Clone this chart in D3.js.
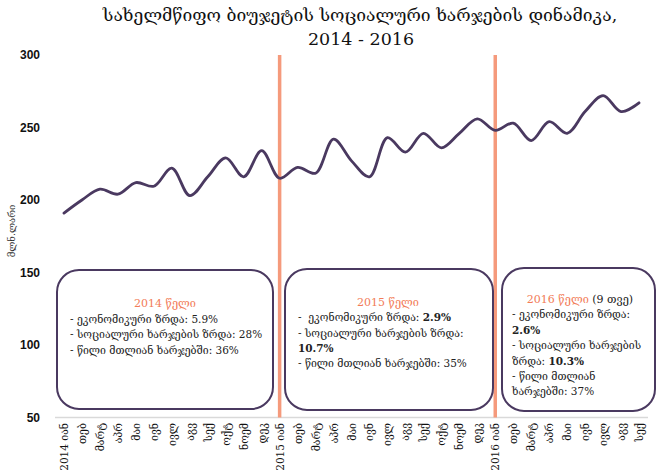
<!DOCTYPE html>
<html>
<head>
<meta charset="utf-8">
<script src="https://cdn.jsdelivr.net/npm/d3@7"></script>
<style>
  html, body { margin: 0; padding: 0; background: #fff; }
  svg { display: block; }
  .geo { font-family: "DejaVu Serif", "DejaVu Sans", serif; white-space: pre; }
</style>
</head>
<body>
<div id="chart"></div>
<script>
// ---- data ----
const years  = ['2014', '2015', '2016'];
const months = ['იან', 'თებ', 'მარტ', 'აპრ', 'მაი', 'ივნ', 'ივლ', 'აგვ', 'სექ', 'ოქტ', 'ნოემ', 'დეკ'];
const monthsPerYear = [12, 12, 9];

// social spending, mln. GEL
const spending = [
  191, 200, 207.5, 204, 212, 209.5, 222, 203, 216, 229, 216, 234,
  215, 222.5, 218.5, 242, 227, 216, 243, 233, 246, 236, 246, 256,
  248, 253, 241, 254, 246, 261, 272, 261, 267
];

const yTicks = [50, 100, 150, 200, 250, 300];

// annotation boxes: each line is a list of [text, bold]
const box2014 = {
  title: [['2014 წელი', 'o']],
  lines: [
    [['- ეკონომიკური ზრდა: 5.9%', 0]],
    [['- სოციალური ხარჯების ზრდა: 28%', 0]],
    [['- წილი მთლიან ხარჯებში: 36%', 0]]
  ]
};
const box2015 = {
  title: [['2015 წელი', 'o']],
  lines: [
    [['-  ეკონომიკური ზრდა: ', 0], ['2.9%', 1]],
    [['- სოციალური ხარჯების ზრდა:', 0]],
    [['10.7%', 1]],
    [['- წილი მთლიან ხარჯებში: 35%', 0]]
  ]
};
const box2016 = {
  title: [['2016 წელი', 'o'], [' (9 თვე)', 0]],
  lines: [
    [['- ეკონომიკური ზრდა:', 0]],
    [['2.6%', 1]],
    [['- სოციალური ხარჯების', 0]],
    [['ზრდა: ', 0], ['10.3%', 1]],
    [['- წილი მთლიან', 0]],
    [['ხარჯებში: 37%', 0]]
  ]
};

// category labels built from years + months
const categories = [];
years.forEach((yr, yi) => {
  for (let m = 0; m < monthsPerYear[yi]; m++) {
    categories.push(m === 0 ? yr + ' ' + months[m] : months[m]);
  }
});

// ---- layout ----
const W = 658, H = 471;
const LINE_COLOR = '#4a3960';
const SEP_COLOR  = '#f59a7c';
const ORANGE     = '#f27c58';

const svg = d3.select('#chart').append('svg')
  .attr('width', W)
  .attr('height', H);

const x = d3.scalePoint()
  .domain(d3.range(categories.length))
  .range([55, 648])
  .padding(0.5);

const y = d3.scaleLinear()
  .domain([50, 300])
  .range([417.5, 55]);

// title
const title = svg.append('text')
  .attr('class', 'geo')
  .attr('text-anchor', 'middle')
  .attr('font-size', 17.5)
  .attr('fill', '#111');
title.append('tspan').attr('x', 360).attr('y', 21)
  .text('სახელმწიფო ბიუჯეტის სოციალური ხარჯების დინამიკა,');
title.append('tspan').attr('x', 361).attr('y', 45)
  .text('2014 - 2016');

// bottom axis line
svg.append('line')
  .attr('x1', 55).attr('x2', 648)
  .attr('y1', y(50)).attr('y2', y(50))
  .attr('stroke', '#d9d9d9')
  .attr('stroke-width', 1.5);

// y axis labels
svg.append('g')
  .selectAll('text')
  .data(yTicks)
  .enter()
  .append('text')
  .attr('x', 40)
  .attr('y', d => y(d))
  .attr('dy', '0.35em')
  .attr('text-anchor', 'end')
  .attr('font-family', '"Liberation Sans", Arial, sans-serif')
  .attr('font-weight', 'bold')
  .attr('font-size', 12)
  .attr('fill', '#111')
  .text(d => d);

// y axis title
svg.append('text')
  .attr('class', 'geo')
  .attr('transform', 'translate(15,231) rotate(-90)')
  .attr('text-anchor', 'middle')
  .attr('font-size', 9.5)
  .attr('fill', '#333')
  .text('მლნ.ლარი');

// x axis labels (rotated)
svg.append('g')
  .selectAll('text')
  .data(categories)
  .enter()
  .append('text')
  .attr('class', 'geo')
  .attr('transform', (d, i) => `translate(${x(i) + 4},423) rotate(-90)`)
  .attr('text-anchor', 'end')
  .attr('font-size', 10.5)
  .attr('fill', '#111')
  .text(d => d);

// year separators at each January
const janIdx = [];
categories.forEach((c, i) => { if (i > 0 && /^\d{4}/.test(c)) janIdx.push(i); });
svg.append('g')
  .selectAll('line')
  .data(janIdx)
  .enter()
  .append('line')
  .attr('x1', d => x(d)).attr('x2', d => x(d))
  .attr('y1', y(300)).attr('y2', y(50))
  .attr('stroke', SEP_COLOR)
  .attr('stroke-width', 3.5);

// annotation boxes
function drawBox(box, bx, by, bw, bh, textX, titleX, y0, step) {
  const g = svg.append('g');
  g.append('rect')
    .attr('x', bx).attr('y', by)
    .attr('width', bw).attr('height', bh)
    .attr('rx', 22).attr('ry', 22)
    .attr('fill', '#fff')
    .attr('stroke', LINE_COLOR)
    .attr('stroke-width', 2);

  const t = g.append('text')
    .attr('class', 'geo')
    .attr('x', titleX).attr('y', y0)
    .attr('text-anchor', 'middle')
    .attr('font-size', 11);
  box.title.forEach(seg => {
    t.append('tspan')
      .attr('fill', seg[1] === 'o' ? ORANGE : '#222')
      .text(seg[0]);
  });

  box.lines.forEach((line, li) => {
    const lt = g.append('text')
      .attr('class', 'geo')
      .attr('x', textX)
      .attr('y', y0 + step * (li + 1))
      .attr('font-size', 10.5)
      .attr('fill', '#222');
    line.forEach(seg => {
      lt.append('tspan')
        .attr('font-weight', seg[1] ? 'bold' : 'normal')
        .text(seg[0]);
    });
  });
}

drawBox(box2014, 57, 270, 216, 139, 70, 165, 307, 15.5);
drawBox(box2015, 285, 269, 208, 141, 298, 388, 306, 15.3);
drawBox(box2016, 502, 268, 153, 143, 512, 580, 303, 15.4);

// spending line
const line = d3.line()
  .x((d, i) => x(i))
  .y(d => y(d))
  .curve(d3.curveCatmullRom.alpha(0.5));

svg.append('path')
  .datum(spending)
  .attr('d', line)
  .attr('fill', 'none')
  .attr('stroke', LINE_COLOR)
  .attr('stroke-width', 2.8)
  .attr('stroke-linejoin', 'round')
  .attr('stroke-linecap', 'round');
</script>
</body>
</html>
